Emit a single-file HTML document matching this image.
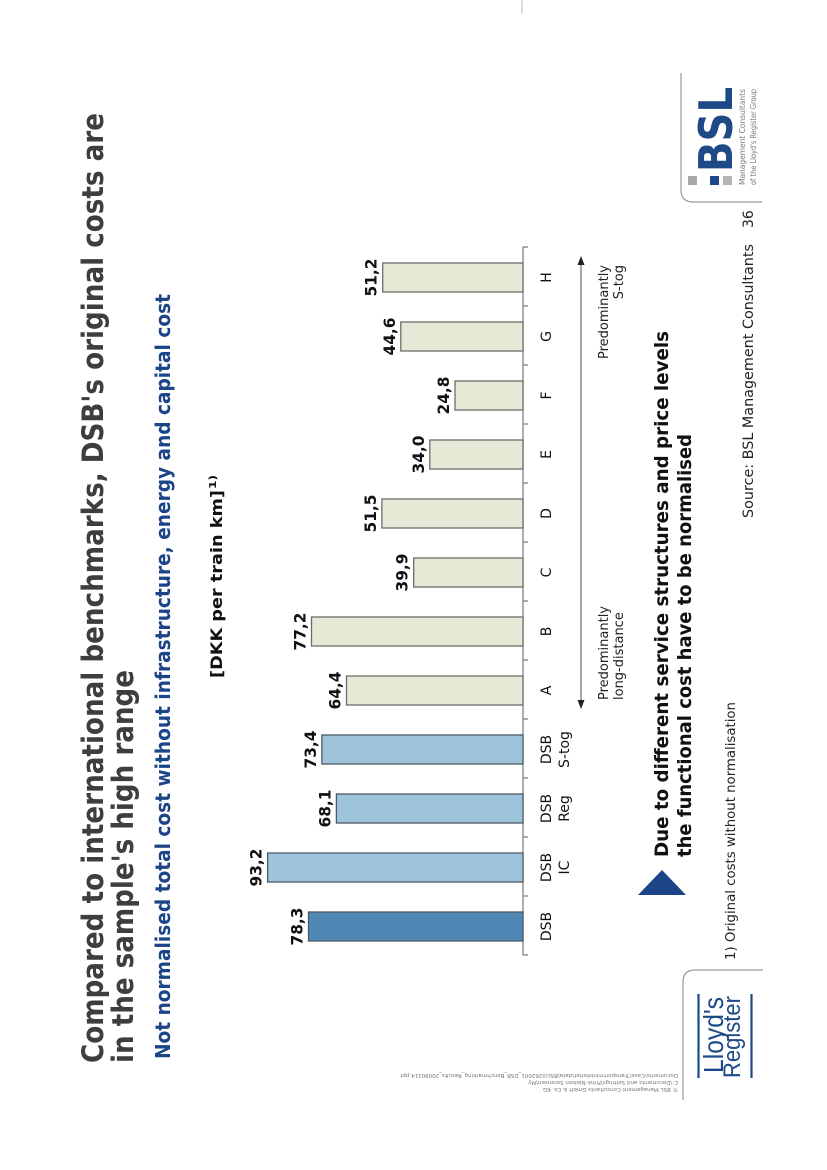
<!DOCTYPE html>
<html>
<head>
<meta charset="utf-8">
<style>
  html, body { margin:0; padding:0; background:#ffffff; }
  svg { display:block; }
  .t { font-family: "DejaVu Sans", "Liberation Sans", sans-serif; }
</style>
</head>
<body>
<svg width="827" height="1170" viewBox="0 0 827 1170" xmlns="http://www.w3.org/2000/svg">
  <rect x="0" y="0" width="827" height="1170" fill="#ffffff"/>

  <!-- tiny scan marks -->
  <line x1="522" y1="0" x2="522" y2="14" stroke="#bbbbbb" stroke-width="1"/>

  <!-- Title -->
  <text class="t" transform="translate(103 1063) rotate(-90)" font-size="29" font-weight="bold" fill="#3d3f3f" textLength="950" lengthAdjust="spacingAndGlyphs">Compared to international benchmarks, DSB's original costs are</text>
  <text class="t" transform="translate(133 1063) rotate(-90)" font-size="29" font-weight="bold" fill="#3d3f3f" textLength="393" lengthAdjust="spacingAndGlyphs">in the sample's high range</text>

  <!-- Subtitle -->
  <text class="t" transform="translate(170 1059) rotate(-90)" font-size="20" font-weight="bold" fill="#1c4587" textLength="765" lengthAdjust="spacingAndGlyphs">Not normalised total cost without infrastructure, energy and capital cost</text>

  <!-- Unit -->
  <text class="t" transform="translate(222 678) rotate(-90)" font-size="16" font-weight="bold" fill="#111111" textLength="188" lengthAdjust="spacingAndGlyphs">[DKK per train km]</text>
  <text class="t" transform="translate(216 489) rotate(-90)" font-size="10" font-weight="bold" fill="#111111" textLength="14" lengthAdjust="spacingAndGlyphs">1)</text>

  <!-- Axis -->
  <line x1="523" y1="247" x2="523" y2="955" stroke="#777777" stroke-width="1.2"/>
  <g stroke="#777777" stroke-width="1.2">
    <line x1="523" y1="955" x2="528" y2="955"/>
    <line x1="523" y1="896" x2="528" y2="896"/>
    <line x1="523" y1="837" x2="528" y2="837"/>
    <line x1="523" y1="778" x2="528" y2="778"/>
    <line x1="523" y1="719" x2="528" y2="719"/>
    <line x1="523" y1="660" x2="528" y2="660"/>
    <line x1="523" y1="601" x2="528" y2="601"/>
    <line x1="523" y1="542" x2="528" y2="542"/>
    <line x1="523" y1="483" x2="528" y2="483"/>
    <line x1="523" y1="424" x2="528" y2="424"/>
    <line x1="523" y1="365" x2="528" y2="365"/>
    <line x1="523" y1="306" x2="528" y2="306"/>
    <line x1="523" y1="247" x2="528" y2="247"/>
  </g>

  <!-- Bars -->
  <g stroke="#4d5862" stroke-width="1.3">
    <rect x="308.5" y="912" width="214.5" height="29" fill="#5088b5"/>
    <rect x="267.6" y="853" width="255.4" height="29" fill="#9ec4dc"/>
    <rect x="336.4" y="794" width="186.6" height="29" fill="#9ec4dc"/>
    <rect x="321.9" y="735" width="201.1" height="29" fill="#9ec4dc"/>
  </g>
  <g stroke="#6a6e6a" stroke-width="1.3" fill="#e5e9d6">
    <rect x="346.5" y="676" width="176.5" height="29"/>
    <rect x="311.5" y="617" width="211.5" height="29"/>
    <rect x="413.7" y="558" width="109.3" height="29"/>
    <rect x="381.9" y="499" width="141.1" height="29"/>
    <rect x="429.8" y="440" width="93.2" height="29"/>
    <rect x="455.0" y="381" width="68.0" height="29"/>
    <rect x="400.8" y="322" width="122.2" height="29"/>
    <rect x="382.7" y="263" width="140.3" height="29"/>
  </g>

  <!-- Value labels -->
  <g class="t" font-size="16" font-weight="bold" fill="#111111" text-anchor="middle">
    <text transform="translate(302.5 926.5) rotate(-90)" textLength="38" lengthAdjust="spacingAndGlyphs">78,3</text>
    <text transform="translate(261.6 867.5) rotate(-90)" textLength="38" lengthAdjust="spacingAndGlyphs">93,2</text>
    <text transform="translate(330.4 808.5) rotate(-90)" textLength="38" lengthAdjust="spacingAndGlyphs">68,1</text>
    <text transform="translate(315.9 749.5) rotate(-90)" textLength="38" lengthAdjust="spacingAndGlyphs">73,4</text>
    <text transform="translate(340.5 690.5) rotate(-90)" textLength="38" lengthAdjust="spacingAndGlyphs">64,4</text>
    <text transform="translate(305.5 631.5) rotate(-90)" textLength="38" lengthAdjust="spacingAndGlyphs">77,2</text>
    <text transform="translate(407.7 572.5) rotate(-90)" textLength="38" lengthAdjust="spacingAndGlyphs">39,9</text>
    <text transform="translate(375.9 513.5) rotate(-90)" textLength="38" lengthAdjust="spacingAndGlyphs">51,5</text>
    <text transform="translate(423.8 454.5) rotate(-90)" textLength="38" lengthAdjust="spacingAndGlyphs">34,0</text>
    <text transform="translate(449.0 395.5) rotate(-90)" textLength="38" lengthAdjust="spacingAndGlyphs">24,8</text>
    <text transform="translate(394.8 336.5) rotate(-90)" textLength="38" lengthAdjust="spacingAndGlyphs">44,6</text>
    <text transform="translate(376.7 277.5) rotate(-90)" textLength="38" lengthAdjust="spacingAndGlyphs">51,2</text>
  </g>

  <!-- Category labels -->
  <g class="t" font-size="14" fill="#111111" text-anchor="middle">
    <text transform="translate(551 926.5) rotate(-90)">DSB</text>
    <text transform="translate(551 867.5) rotate(-90)">DSB</text>
    <text transform="translate(569 867.5) rotate(-90)">IC</text>
    <text transform="translate(551 808.5) rotate(-90)">DSB</text>
    <text transform="translate(569 808.5) rotate(-90)">Reg</text>
    <text transform="translate(551 749.5) rotate(-90)">DSB</text>
    <text transform="translate(569 749.5) rotate(-90)">S-tog</text>
    <text transform="translate(551 690.5) rotate(-90)">A</text>
    <text transform="translate(551 631.5) rotate(-90)">B</text>
    <text transform="translate(551 572.5) rotate(-90)">C</text>
    <text transform="translate(551 513.5) rotate(-90)">D</text>
    <text transform="translate(551 454.5) rotate(-90)">E</text>
    <text transform="translate(551 395.5) rotate(-90)">F</text>
    <text transform="translate(551 336.5) rotate(-90)">G</text>
    <text transform="translate(551 277.5) rotate(-90)">H</text>
  </g>

  <!-- Double arrow -->
  <line x1="581" y1="263" x2="581" y2="702" stroke="#777777" stroke-width="1.3"/>
  <polygon points="581,256 577.5,265 584.5,265" fill="#222222"/>
  <polygon points="581,709 577.5,700 584.5,700" fill="#222222"/>

  <g class="t" font-size="13" fill="#222222">
    <text transform="translate(608 700) rotate(-90)">Predominantly</text>
    <text transform="translate(623 700) rotate(-90)">long-distance</text>
    <text transform="translate(608 265) rotate(-90)" text-anchor="end">Predominantly</text>
    <text transform="translate(623 265) rotate(-90)" text-anchor="end">S-tog</text>
  </g>

  <!-- Key message -->
  <polygon points="662,870 638,895 686,895" fill="#1c4587"/>
  <text class="t" transform="translate(668 857) rotate(-90)" font-size="19" font-weight="bold" fill="#111111" textLength="526" lengthAdjust="spacingAndGlyphs">Due to different service structures and price levels</text>
  <text class="t" transform="translate(691 857) rotate(-90)" font-size="19" font-weight="bold" fill="#111111" textLength="423" lengthAdjust="spacingAndGlyphs">the functional cost have to be normalised</text>

  <!-- Footnote -->
  <text class="t" transform="translate(735 960) rotate(-90)" font-size="13" fill="#222222" textLength="258" lengthAdjust="spacingAndGlyphs">1)  Original costs without normalisation</text>

  <!-- Source -->
  <text class="t" transform="translate(753 518) rotate(-90)" font-size="14" fill="#222222" textLength="274" lengthAdjust="spacingAndGlyphs">Source:  BSL Management Consultants</text>
  <text class="t" transform="translate(753 228) rotate(-90)" font-size="14" fill="#222222">36</text>

  <!-- BSL logo box -->
  <path d="M681,73 V190 Q681,202 693,202 H762" fill="none" stroke="#9a9a9a" stroke-width="1.2"/>
  <rect x="688" y="176" width="9" height="9" fill="#a8a8a8"/>
  <rect x="710" y="176" width="9" height="9" fill="#1d4a87"/>
  <rect x="723" y="176" width="9" height="9" fill="#b5b5b5"/>
  <text class="t" transform="translate(732 172) rotate(-90)" font-size="46" font-weight="bold" fill="#1d4a87" textLength="85" lengthAdjust="spacingAndGlyphs">BSL</text>
  <text class="t" transform="translate(745 185) rotate(-90)" font-size="8" fill="#7a7a7a" textLength="96" lengthAdjust="spacingAndGlyphs">Management Consultants</text>
  <text class="t" transform="translate(756 185) rotate(-90)" font-size="8" fill="#7a7a7a" textLength="96" lengthAdjust="spacingAndGlyphs">of the Lloyd's Register Group</text>

  <!-- Lloyd's Register logo box -->
  <path d="M763,970 H695 Q683,970 683,982 V1100" fill="none" stroke="#9a9a9a" stroke-width="1.2"/>
  <line x1="698.5" y1="994" x2="698.5" y2="1078" stroke="#1d4a87" stroke-width="2.2"/>
  <line x1="751.5" y1="994" x2="751.5" y2="1078" stroke="#1d4a87" stroke-width="2.2"/>
  <text transform="translate(723 1073) rotate(-90)" font-family="Liberation Sans, sans-serif" font-size="28" fill="#1d4a87" textLength="76" lengthAdjust="spacingAndGlyphs">Lloyd's</text>
  <text transform="translate(740 1078) rotate(-90)" font-family="Liberation Sans, sans-serif" font-size="24" fill="#1d4a87" textLength="82" lengthAdjust="spacingAndGlyphs">Register</text>

  <!-- Copyright (upside-down) -->
  <g class="t" font-size="5.5" fill="#777777">
    <text transform="translate(678 1074) rotate(180)">Documents\Case\Transportministeriet\data\BSL\0262001_DSB_Benchmarking_Results_20090114.ppt</text>
    <text transform="translate(678 1081) rotate(180)">C:\Documents and Settings\Frink-Nielsen Sorensen\My</text>
    <text transform="translate(678 1088) rotate(180)">© BSL Management Consultants GmbH &amp; Co. KG</text>
  </g>
</svg>
</body>
</html>
